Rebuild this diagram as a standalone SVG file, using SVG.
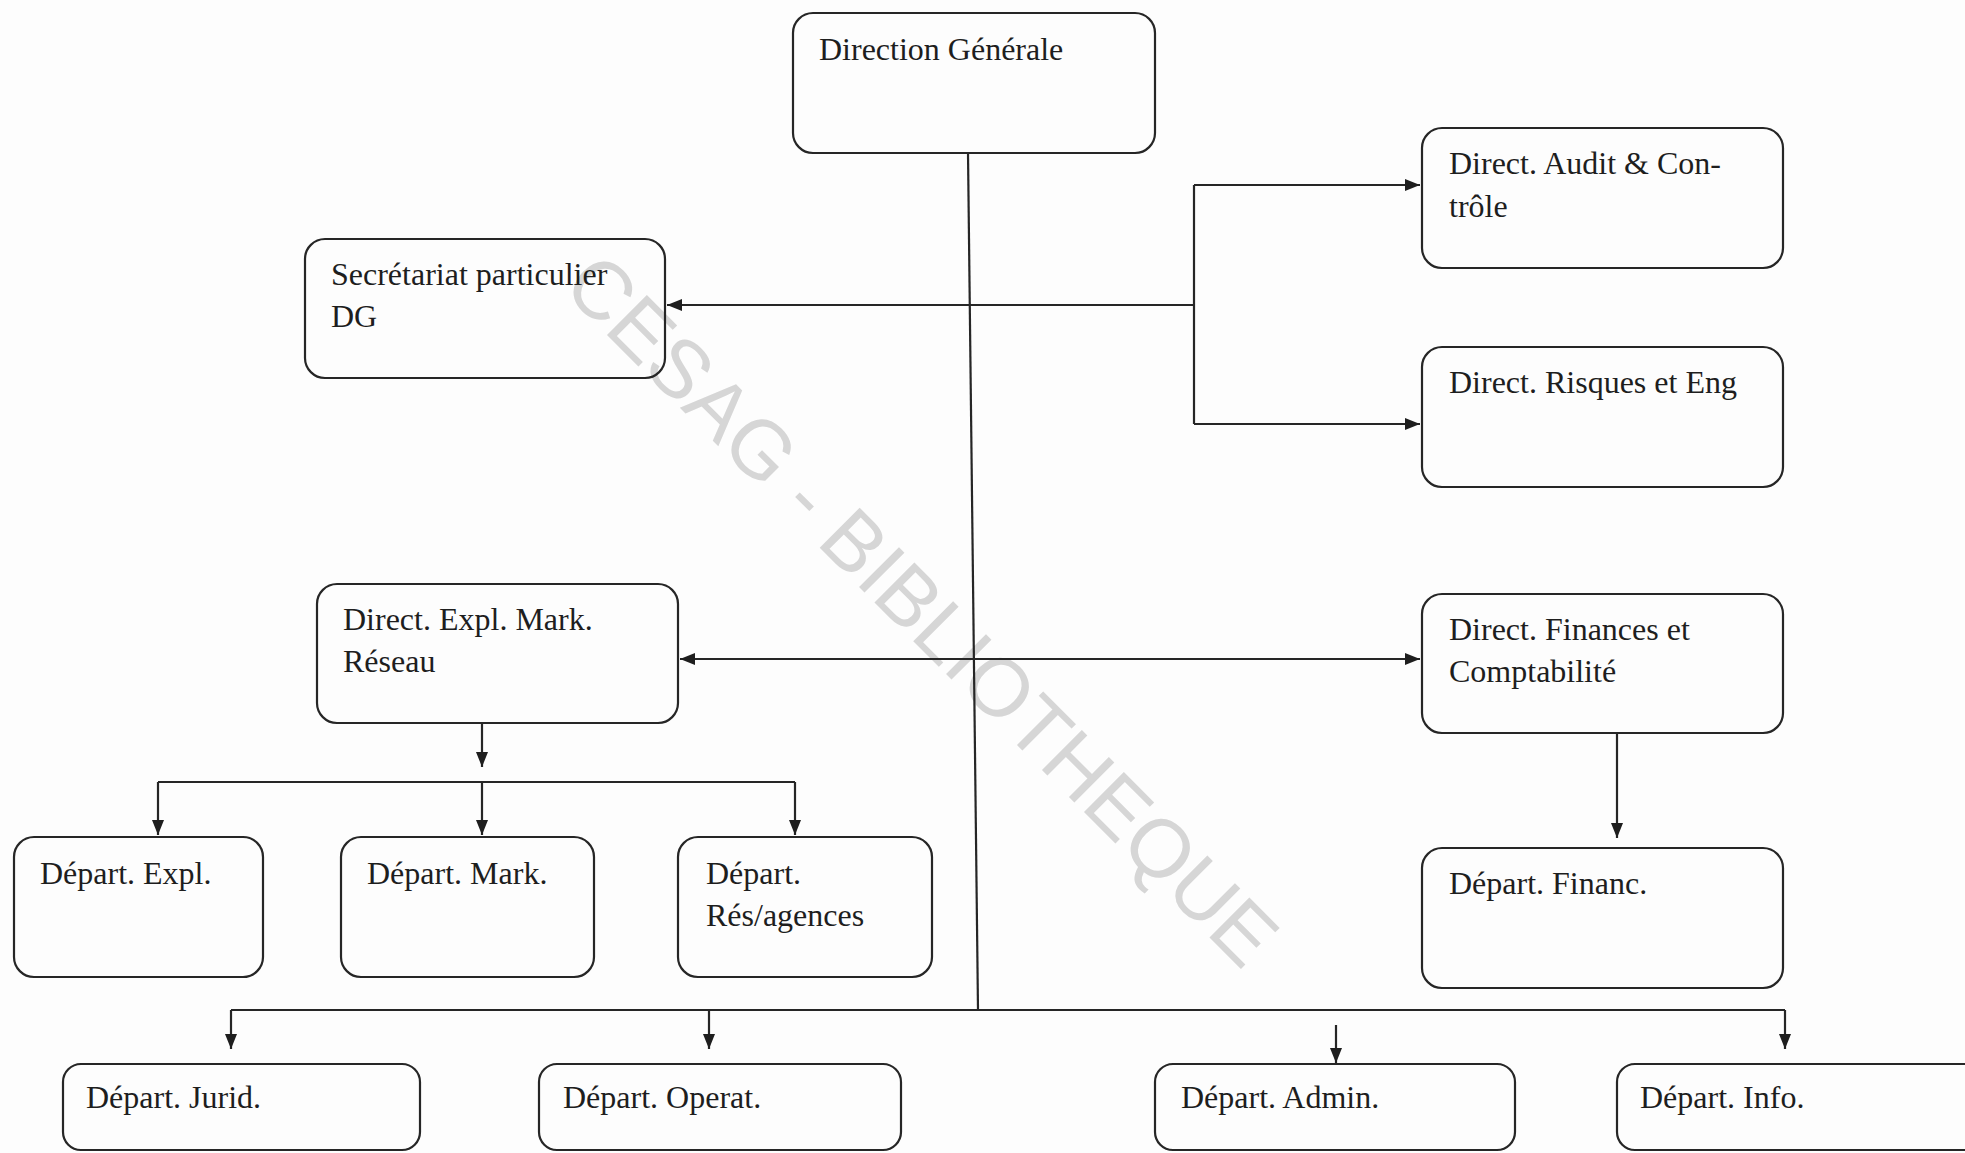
<svg xmlns="http://www.w3.org/2000/svg" width="1965" height="1153" viewBox="0 0 1965 1153">
<style>
.box{fill:none;stroke:#262626;stroke-width:2.2}
.lbl{font-family:"Liberation Serif","Times New Roman",serif;font-size:32px;fill:#1e1e1e}
.con{fill:none;stroke:#262626;stroke-width:2.2}
.wm{font-family:"Liberation Sans",Arial,sans-serif;font-size:82px;fill:#d6d6d6}
</style>
<defs>
<marker id="arr" markerUnits="userSpaceOnUse" markerWidth="16" markerHeight="12" refX="15" refY="6" orient="auto-start-reverse">
<path d="M0,0 L15,6 L0,12 z" fill="#1e1e1e"/>
</marker>
</defs>
<rect width="1965" height="1153" fill="#fdfdfd"/>

<text class="wm" x="902" y="630" text-anchor="middle" transform="rotate(45 902 630)">CESAG - BIBLIOTHEQUE</text>

<g id="connectors">
<path class="con" d="M968,153 L978,1010"/>
<path class="con" d="M1194,305 H667" marker-end="url(#arr)"/>
<path class="con" d="M1194,185 V424"/>
<path class="con" d="M1194,185 H1420" marker-end="url(#arr)"/>
<path class="con" d="M1194,424 H1420" marker-end="url(#arr)"/>
<path class="con" d="M680,659 H1420" marker-start="url(#arr)" marker-end="url(#arr)"/>
<path class="con" d="M482,723 V767" marker-end="url(#arr)"/>
<path class="con" d="M158,782 H795"/>
<path class="con" d="M158,782 V835" marker-end="url(#arr)"/>
<path class="con" d="M482,782 V835" marker-end="url(#arr)"/>
<path class="con" d="M795,782 V835" marker-end="url(#arr)"/>
<path class="con" d="M1617,733 V838" marker-end="url(#arr)"/>
<path class="con" d="M231,1010 H1785"/>
<path class="con" d="M231,1010 V1049" marker-end="url(#arr)"/>
<path class="con" d="M709,1010 V1049" marker-end="url(#arr)"/>
<path class="con" d="M1336,1025 V1063" marker-end="url(#arr)"/>
<path class="con" d="M1785,1010 V1049" marker-end="url(#arr)"/>
</g>

<g id="n-dg"><rect class="box" x="793" y="13" width="362" height="140" rx="20"/><text class="lbl" x="819" y="60">Direction Générale</text></g>
<g id="n-audit"><rect class="box" x="1422" y="128" width="361" height="140" rx="20"/><text class="lbl" x="1449" y="174">Direct. Audit &amp; Con-</text><text class="lbl" x="1449" y="217">trôle</text></g>
<g id="n-secr"><rect class="box" x="305" y="239" width="360" height="139" rx="20"/><text class="lbl" x="331" y="285">Secrétariat particulier</text><text class="lbl" x="331" y="327">DG</text></g>
<g id="n-risques"><rect class="box" x="1422" y="347" width="361" height="140" rx="20"/><text class="lbl" x="1449" y="393">Direct. Risques et Eng</text></g>
<g id="n-expl"><rect class="box" x="317" y="584" width="361" height="139" rx="20"/><text class="lbl" x="343" y="630">Direct. Expl. Mark.</text><text class="lbl" x="343" y="672">Réseau</text></g>
<g id="n-fin"><rect class="box" x="1422" y="594" width="361" height="139" rx="20"/><text class="lbl" x="1449" y="640">Direct. Finances et</text><text class="lbl" x="1449" y="682">Comptabilité</text></g>
<g id="n-dexpl"><rect class="box" x="14" y="837" width="249" height="140" rx="20"/><text class="lbl" x="40" y="884">Départ. Expl.</text></g>
<g id="n-dmark"><rect class="box" x="341" y="837" width="253" height="140" rx="20"/><text class="lbl" x="367" y="884">Départ. Mark.</text></g>
<g id="n-dres"><rect class="box" x="678" y="837" width="254" height="140" rx="20"/><text class="lbl" x="706" y="884">Départ.</text><text class="lbl" x="706" y="926">Rés/agences</text></g>
<g id="n-dfin"><rect class="box" x="1422" y="848" width="361" height="140" rx="20"/><text class="lbl" x="1449" y="894">Départ. Financ.</text></g>
<g id="n-djur"><rect class="box" x="63" y="1064" width="357" height="86" rx="18"/><text class="lbl" x="86" y="1108">Départ. Jurid.</text></g>
<g id="n-dop"><rect class="box" x="539" y="1064" width="362" height="86" rx="18"/><text class="lbl" x="563" y="1108">Départ. Operat.</text></g>
<g id="n-dadm"><rect class="box" x="1155" y="1064" width="360" height="86" rx="18"/><text class="lbl" x="1181" y="1108">Départ. Admin.</text></g>
<g id="n-dinfo"><rect class="box" x="1617" y="1064" width="400" height="86" rx="18"/><text class="lbl" x="1640" y="1108">Départ. Info.</text></g>
</svg>
